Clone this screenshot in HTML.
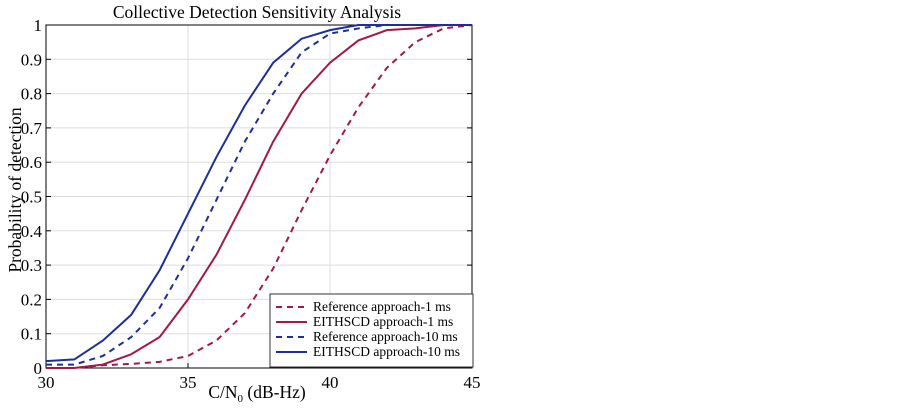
<!DOCTYPE html>
<html><head><meta charset="utf-8"><style>
body{margin:0;background:#fff;}
svg text{font-family:"Liberation Serif",serif;fill:#000;}
</style></head><body>
<svg id="chart" width="903" height="403"></svg>
<script>
const xValues=[30,31,32,33,34,35,36,37,38,39,40,41,42,43,44,45];
const ref1=[0,0,0.008,0.012,0.018,0.035,0.08,0.16,0.29,0.46,0.62,0.76,0.875,0.95,0.99,1];
const eith1=[0,0,0.01,0.04,0.09,0.2,0.33,0.49,0.66,0.8,0.89,0.955,0.985,0.99,1,1];
const ref10=[0.01,0.01,0.035,0.09,0.175,0.32,0.49,0.66,0.8,0.92,0.975,0.99,1,1,1,1];
const eith10=[0.02,0.025,0.08,0.155,0.285,0.45,0.615,0.765,0.89,0.96,0.985,1,1,1,1,1];
const xTicks=[30,35,40,45];
const yTicks=[0,0.1,0.2,0.3,0.4,0.5,0.6,0.7,0.8,0.9,1];
const yTickLabels=["0","0.1","0.2","0.3","0.4","0.5","0.6","0.7","0.8","0.9","1"];
const seriesNames=["Reference approach-1 ms","EITHSCD approach-1 ms","Reference approach-10 ms","EITHSCD approach-10 ms"];

const L=46,R=472,T=25,B=368;
const sx=v=>L+(v-30)/15*(R-L);
const sy=v=>B-v*(B-T);
const NS="http://www.w3.org/2000/svg";
const svg=document.getElementById('chart');
function mk(tag,attrs,parent){const e=document.createElementNS(NS,tag);for(const k in attrs)e.setAttribute(k,attrs[k]);(parent||svg).appendChild(e);return e;}

yTicks.forEach((v,i)=>{
  const g=mk('line',{x1:L,x2:R,y1:sy(v),y2:sy(v),stroke:'#ddd','stroke-width':1});
  
  
  const tk=mk('line',{x1:L,x2:L+5,y1:sy(v),y2:sy(v),stroke:'#000'});
  
  
  const tk2=mk('line',{x1:R-5,x2:R,y1:sy(v),y2:sy(v),stroke:'#000'});
  
  
  const t=mk('text',{x:L-4,y:sy(v)+6,'text-anchor':'end','font-size':17});
  t.textContent=yTickLabels[i];
  
  
});
xTicks.forEach(v=>{
  const g=mk('line',{x1:sx(v),x2:sx(v),y1:T,y2:B,stroke:'#ddd','stroke-width':1});
  
  
  const tk=mk('line',{x1:sx(v),x2:sx(v),y1:B,y2:B-5,stroke:'#000'});
  
  
  const t=mk('text',{x:sx(v),y:B+20,'text-anchor':'middle','font-size':17});
  t.textContent=v;
  
  
});
const frame=mk('rect',{x:L,y:T,width:R-L,height:B-T,fill:'none',stroke:'#000','stroke-width':1});



const RED='#a3174a',BLUE='#1c2f9c';
const series=[[ref1,RED,'6,5','series-reference-1ms'],[eith1,RED,'','series-eithscd-1ms'],[ref10,BLUE,'6,5','series-reference-10ms'],[eith10,BLUE,'','series-eithscd-10ms']];
series.forEach(s=>{
  const pts=s[0].map((v,i)=>sx(xValues[i])+','+sy(v)).join(' ');
  const p=mk('polyline',{points:pts,fill:'none',stroke:s[1],'stroke-width':2,'stroke-dasharray':s[2]});
  
  
});

const lg=mk('g',{});


const lb=mk('rect',{x:270,y:294,width:203,height:73,fill:'#fff',stroke:'#333','stroke-width':1},lg);


series.forEach((s,i)=>{
  const y=307+i*15;
  const l=mk('line',{x1:276,x2:307,y1:y,y2:y,stroke:s[1],'stroke-width':2,'stroke-dasharray':s[2]},lg);
  
  
  const t=mk('text',{x:313,y:y+4,'font-size':13.5},lg);
  t.textContent=seriesNames[i];
  
  
});

const title=mk('text',{x:257,y:18,'text-anchor':'middle','font-size':17.5});
title.textContent='Collective Detection Sensitivity Analysis';


const xl=mk('text',{x:257,y:398,'text-anchor':'middle','font-size':17.5});
xl.innerHTML='C/N<tspan font-size="11" dy="4">0</tspan><tspan dy="-4"> (dB-Hz)</tspan>';


const yl=mk('text',{x:0,y:0,'text-anchor':'middle','font-size':17.5,transform:'translate(21,190) rotate(-90)'});
yl.textContent='Probability of detection';


</script>
</body></html>
